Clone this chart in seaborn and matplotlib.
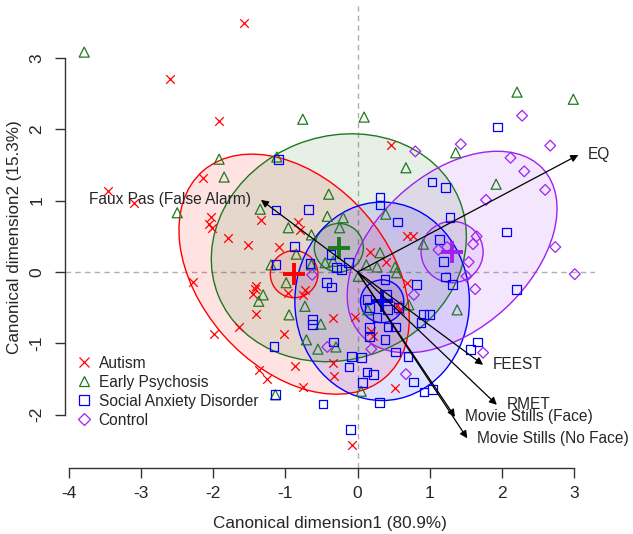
import numpy as np
import pandas as pd
import matplotlib
matplotlib.use("Agg")
import matplotlib.pyplot as plt
from matplotlib.patches import Ellipse
from matplotlib.lines import Line2D
import seaborn as sns

# canonical scores
autism_x = [-1.57, -2.60, -1.92, -2.15, -3.46, -3.10, -1.34, -0.83, -2.03, -2.06,
            -2.02, -0.80, -1.80, -1.52, -1.09, -2.28, -1.41, -1.42, -1.45, -0.97,
            -0.73, -0.76, -1.41, -0.34, -1.64, -1.99, -1.02, -0.34, -0.87, -1.37,
            -1.26, -0.33, -0.76, 0.46, 0.69, 0.77, 0.17, 0.40, 0.68, 0.54,
            0.59, 0.19, 0.22, -0.04, 0.52, -0.08]
autism_y = [3.49, 2.70, 2.11, 1.32, 1.13, 0.97, 0.73, 0.70, 0.77, 0.67,
            0.62, 0.59, 0.48, 0.38, 0.35, -0.14, -0.20, -0.24, -0.31, -0.29,
            -0.25, -0.32, -0.59, -0.64, -0.77, -0.87, -0.87, -1.27, -1.32, -1.37,
            -1.50, -1.46, -1.61, 1.78, 0.50, 0.50, 0.28, 0.14, -0.15, -0.46,
            -0.53, -0.83, -0.90, -0.63, -1.62, -2.42]

psychosis_x = [-3.79, -0.76, 0.09, -1.92, -1.12, -1.85, -2.50, -1.35, -0.40, -0.42,
               -0.96, -0.64, -0.85, -1.20, -0.99, -0.64, -1.31, -1.37, -0.95, -0.73,
               -0.51, -0.71, -0.55, -1.14, 0.67, -0.20, 0.39, -0.25, 0.91, -0.45,
               -0.34, 0.31, 0.12, 0.27, 0.52, 0.54, 0.01, 2.21, 2.99, 1.36,
               1.92, 1.38, 0.14, 0.71, 0.05, -0.30]
psychosis_y = [3.08, 2.14, 2.17, 1.58, 1.61, 1.33, 0.83, 0.88, 1.09, 0.78,
               0.62, 0.52, 0.25, 0.10, -0.15, 0.10, -0.32, -0.41, -0.60, -0.48,
               -0.73, -0.95, -1.08, -1.72, 1.46, 0.76, 0.81, 0.62, 0.39, 0.13,
               0.15, 0.27, 0.10, 0.07, 0.07, -0.01, -0.06, 2.52, 2.42, 1.67,
               1.23, -0.53, -0.53, -0.46, -1.67, -1.05]

anxiety_x = [-1.10, -1.13, -0.68, -0.87, -1.13, -0.62, -0.63, -1.16, -0.33, -1.14,
             -0.48, 1.94, 1.03, 1.22, 0.31, 0.31, 0.55, 1.28, 1.13, 1.19,
             -0.37, -0.29, -0.22, -0.13, -0.43, -0.36, 0.38, 0.82, 2.06, 2.20,
             1.22, 1.32, 0.91, 1.00, 0.88, 0.13, 0.17, 0.27, 0.40, 0.41,
             0.57, 0.42, 0.52, 0.17, 0.17, 0.38, 0.52, 0.70, -0.08, 0.05,
             -0.12, 0.13, 0.22, 0.07, 0.77, 0.92, 1.04, 0.30, 1.57, 1.66,
             -0.10, -0.66]
anxiety_y = [1.58, 0.87, 0.88, 0.36, 0.11, -0.67, -0.73, -1.04, -0.98, -1.72,
             -1.85, 2.03, 1.26, 1.18, 1.05, 0.94, 0.70, 0.76, 0.46, 0.15,
             0.25, 0.06, 0.04, 0.13, -0.15, -0.21, -0.11, -0.18, 0.56, -0.25,
             -0.07, -0.18, -0.59, -0.59, -0.71, -0.38, -0.50, -0.64, -0.32, -0.53,
             -0.50, -0.77, -0.77, -0.78, -0.91, -0.95, -1.12, -1.18, -1.18, -1.20,
             -1.33, -1.40, -1.43, -1.55, -1.54, -1.68, -1.65, -1.83, -1.08, -0.98,
             -2.21, 0.12]

control_x = [0.80, 2.28, 1.43, 2.67, 2.12, 2.31, 2.60, 1.78, 1.65, 1.60,
             2.74, 1.54, 3.01, 1.51, 1.12, 1.24, 1.63, 0.78, 0.19, 0.67,
             1.74, -0.42, -0.63]
control_y = [1.69, 2.19, 1.79, 1.77, 1.60, 1.41, 1.15, 1.01, 0.50, 0.39,
             0.35, 0.14, -0.03, -0.06, 0.31, 0.35, -0.24, -0.32, -1.08, -1.43,
             -1.13, -1.05, -0.04]

groups = ["Autism", "Early Psychosis", "Social Anxiety Disorder", "Control"]

# group means and ellipses (full axis lengths, angle in degrees)
centroid_x = [-0.88, -0.26, 0.34, 1.31]
centroid_y = [-0.03, 0.34, -0.41, 0.28]
ellipse_w = [3.84, 3.60, 2.42, 3.43]
ellipse_h = [2.60, 3.12, 2.78, 2.16]
ellipse_angle = [-49, 22, 0, 43]
mean_radius = [0.33, 0.34, 0.30, 0.43]

# structure vectors
variables = ["EQ", "Faux Pas (False Alarm)", "FEEST", "RMET",
             "Movie Stills (Face)", "Movie Stills (No Face)"]
vec_x = [3.06, -1.34, 1.74, 1.93, 1.35, 1.52]
vec_y = [1.64, 1.01, -1.30, -1.86, -2.03, -2.33]

df = pd.concat([
    pd.DataFrame({"x": autism_x, "y": autism_y, "group": groups[0]}),
    pd.DataFrame({"x": psychosis_x, "y": psychosis_y, "group": groups[1]}),
    pd.DataFrame({"x": anxiety_x, "y": anxiety_y, "group": groups[2]}),
    pd.DataFrame({"x": control_x, "y": control_y, "group": groups[3]}),
], ignore_index=True)

colors = ["#ff0000", "#1e781e", "#0000ff", "#a020f0"]
markers = ["x", "^", "s", "D"]
sizes = [38, 52, 40, 30]

sns.set_theme(style="white")
plt.rcParams["font.family"] = ["Liberation Sans", "DejaVu Sans"]
plt.rcParams["axes.unicode_minus"] = False

fig = plt.figure(figsize=(6.33, 5.34), dpi=100)
ax = fig.add_axes([0.1027, 0.1236, 0.8373, 0.8657])
ax.set_xlim(-4.056, 3.291)
ax.set_ylim(-2.745, 3.73)

ax.axhline(0, color="#b0b0b0", ls=(0, (4, 3)), lw=1, zorder=0)
ax.axvline(0, color="#b0b0b0", ls=(0, (4, 3)), lw=1, zorder=0)

for i, g in enumerate(groups):
    c = colors[i]
    ax.add_patch(Ellipse((centroid_x[i], centroid_y[i]), ellipse_w[i], ellipse_h[i],
                         angle=ellipse_angle[i], facecolor=c, alpha=0.11,
                         edgecolor="none", zorder=1))
    ax.add_patch(Ellipse((centroid_x[i], centroid_y[i]), ellipse_w[i], ellipse_h[i],
                         angle=ellipse_angle[i], facecolor="none", edgecolor=c,
                         lw=1.0, zorder=2))
    ax.add_patch(Ellipse((centroid_x[i], centroid_y[i]), 2 * mean_radius[i],
                         2 * mean_radius[i], facecolor=c, alpha=0.08,
                         edgecolor="none", zorder=1))
    ax.add_patch(Ellipse((centroid_x[i], centroid_y[i]), 2 * mean_radius[i],
                         2 * mean_radius[i], facecolor="none", edgecolor=c,
                         lw=1.0, zorder=2))

for i, g in enumerate(groups):
    sub = df[df["group"] == g]
    if markers[i] == "x":
        sns.scatterplot(data=sub, x="x", y="y", marker="x", color=colors[i],
                        s=sizes[i], linewidth=0.9, ax=ax, zorder=3, legend=False)
    else:
        sns.scatterplot(data=sub, x="x", y="y", marker=markers[i], facecolors="none",
                        edgecolor=colors[i], s=sizes[i], linewidth=0.9, ax=ax,
                        zorder=3, legend=False)

# group means
for i in range(len(groups)):
    ax.scatter(centroid_x[i], centroid_y[i], marker="+", s=260, color=colors[i],
               linewidths=2.8, zorder=5)

# arrows
for name, vx, vy in zip(variables, vec_x, vec_y):
    ax.annotate("", xy=(vx, vy), xytext=(0, 0),
                arrowprops=dict(arrowstyle="-|>", color="black", lw=0.9,
                                shrinkA=0, shrinkB=0, mutation_scale=11), zorder=6)
    if vx < 0:
        ax.annotate(name, xy=(vx, vy), xytext=(-7, 0), textcoords="offset points",
                    ha="right", va="center", fontsize=11.2, zorder=7)
    else:
        ax.annotate(name, xy=(vx, vy), xytext=(7, 0), textcoords="offset points",
                    ha="left", va="center", fontsize=11.2, zorder=7)

# axes in R style
for s in ["top", "right"]:
    ax.spines[s].set_visible(False)
ax.spines["left"].set_bounds(-2, 3)
ax.spines["bottom"].set_bounds(-4, 3)
for s in ["left", "bottom"]:
    ax.spines[s].set_color("#333333")
    ax.spines[s].set_linewidth(1)
ax.set_xticks(range(-4, 4))
ax.set_yticks(range(-2, 4))
ax.tick_params(axis="both", direction="out", length=7, width=1, color="#333333",
               labelsize=12.5, pad=6, bottom=True, left=True)
ax.tick_params(axis="y", pad=8)
for lab in ax.get_yticklabels():
    lab.set_rotation(90)
    lab.set_va("center")
ax.set_xlabel("Canonical dimension1 (80.9%)", fontsize=12.3, labelpad=11)
ax.set_ylabel("Canonical dimension2 (15.3%)", fontsize=12.3, labelpad=5)

handles = [Line2D([], [], ls="none", marker=markers[i], markersize=7,
                  markerfacecolor="none" if markers[i] != "x" else colors[i],
                  markeredgecolor=colors[i], markeredgewidth=0.9)
           for i in range(len(groups))]
handles[3].set_markersize(6)
ax.legend(handles, groups, loc="upper left", bbox_to_anchor=(0.021, 0.243),
          frameon=False, fontsize=11.2, handlelength=1.0, handletextpad=0.45,
          labelspacing=0.26, borderpad=0, borderaxespad=0)

fig.savefig("out.png", dpi=100)
